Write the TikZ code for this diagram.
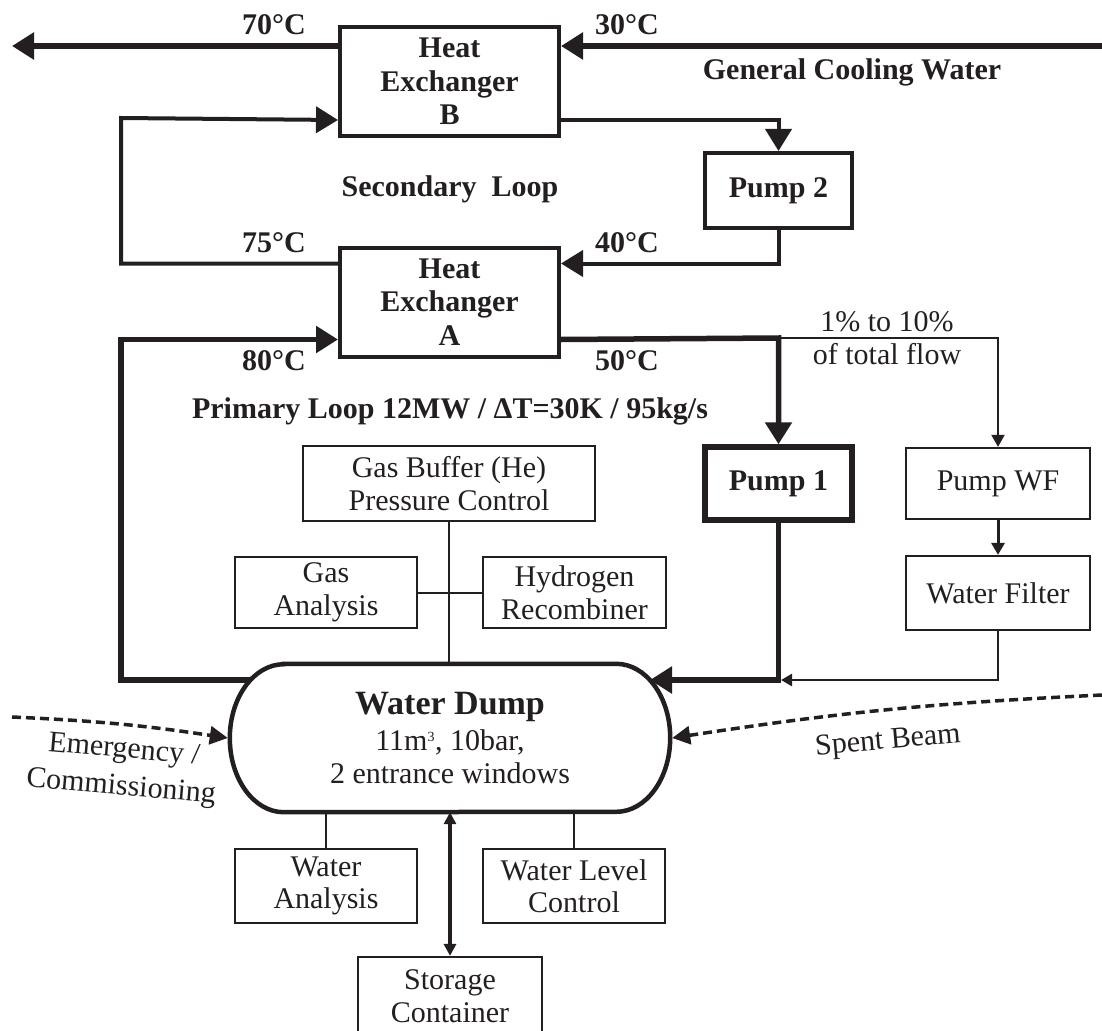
\documentclass[tikz,border=0pt]{standalone}
\usepackage{fontspec}
\setmainfont{Liberation Serif}
\usetikzlibrary{arrows.meta, calc}
\definecolor{ink}{RGB}{35,31,32}

\begin{document}
\begin{tikzpicture}[x=1pt, y=-1pt, color=ink,
            hx/.style={draw, line width=4pt, minimum width=219pt, minimum height=109pt, inner sep=0pt, align=center, font=\bfseries\fontsize{30}{33.5}\selectfont},
            pmp/.style={draw, line width=4pt, minimum width=147pt, minimum height=75pt, inner sep=0pt, font=\bfseries\fontsize{30}{33}\selectfont},
            dev/.style={draw, line width=2.2pt, minimum height=73pt, inner sep=0pt, align=center, font=\fontsize{30}{32.5}\selectfont},
            lbl/.style={inner sep=0pt, font=\bfseries\fontsize{30}{33}\selectfont},
            note/.style={inner sep=0pt, align=center, font=\fontsize{30}{33}\selectfont},
            cool/.style={line width=6pt, -{Triangle[length=22pt, width=26pt]}},
            sec/.style={line width=4pt, -{Triangle[length=22pt, width=26pt]}},
            pri/.style={line width=5.5pt, -{Triangle[length=22pt, width=26pt]}},
            ln/.style={line width=2pt},
            thinar/.style={line width=2pt, -{Triangle[length=11pt, width=12pt]}},
            beam/.style={line width=3.5pt, dash pattern=on 9pt off 5pt, -{Triangle[length=18pt, width=18pt]}}]
            \useasboundingbox (0,0) rectangle (1102,1030);
            \node[hx] (hxb) at (449.5,81.5) {Heat\\Exchanger\\B};
            \node[hx] (hxa) at (449.5,302) {Heat\\Exchanger\\A};
            \node[pmp] (p2) at (778.5,190.5) {Pump 2};
            \node[pmp, line width=5.5pt, minimum height=73pt] (p1) at (778.5,483.5) {Pump 1};
            \node[dev, minimum width=184pt, minimum height=71pt] (pwf) at (998,483.5) {Pump WF};
            \node[dev, minimum width=184pt, minimum height=74pt] (wf) at (998,593) {Water Filter};
            \node[dev, minimum width=292pt, minimum height=75pt] (gb) at (449,483.5) {Gas Buffer (He)\\Pressure Control};
            \node[dev, minimum width=182pt, minimum height=71pt] (ga) at (326,592.5) {Gas\\Analysis};
            \node[dev, minimum width=183pt, minimum height=71pt] (hr) at (574.5,592.5) {Hydrogen\\Recombiner};
            \node[dev, minimum width=182pt, minimum height=74pt] (wa) at (326,886) {Water\\Analysis};
            \node[dev, minimum width=182pt, minimum height=74pt] (wl) at (574,886) {Water Level\\Control};
            \node[dev, minimum width=184pt, minimum height=78pt] (sc) at (450,996) {Storage\\Container};
            \node[minimum width=440pt, minimum height=148pt, inner sep=0pt, align=center, font=\fontsize{30}{33}\selectfont] (dump) at (450,738)
                {{\bfseries\fontsize{34}{37}\selectfont Water Dump}\\[3pt]11m\textsuperscript{\fontsize{14}{14}\selectfont 3}, 10bar,\\2 entrance windows};
            \draw[line width=4.5pt] ([xshift=54pt]dump.north west) -- ([xshift=-54pt]dump.north east)
                arc[start angle=90, end angle=-90, x radius=54pt, y radius=74pt] -- ([xshift=54pt]dump.south west)
                arc[start angle=270, end angle=90, x radius=54pt, y radius=74pt] -- cycle;
            \node[lbl] (t70) at (274,25) {70°C};
            \node[lbl] (t30) at (627,25) {30°C};
            \node[lbl] (gcw) at (852,72) {General Cooling Water};
            \node[lbl] (secl) at (450,189) {Secondary\ \ Loop};
            \node[lbl] (t75) at (274,243) {75°C};
            \node[lbl] (t40) at (627,243) {40°C};
            \node[lbl] (t80) at (274,361) {80°C};
            \node[lbl] (t50) at (627,361) {50°C};
            \node[lbl] (pril) at (450,411) {Primary Loop 12MW / ΔT=30K / 95kg/s};
            \node[note] (frac) at (887,338) {1\% to 10\%\\of total flow};
            \node[note, rotate=-5] (emg1) at (124,751) {Emergency /};
            \node[note, rotate=-5] (emg2) at (121,788) {Commissioning};
            \node[note, rotate=5] (spb) at (888,742) {Spent Beam};
            \coordinate (cwin) at (1102,46);
            \coordinate (cwout) at (12,46);
            \draw[cool] (cwin) -- (cwin -| hxb.east);
            \draw[cool] (cwin -| hxb.west) -- (cwout);
            \coordinate (sl) at (121,118);
            \draw[sec] ([yshift=18pt]hxb.south east) -| (p2.north);
            \draw[sec] (p2.south) |- ([yshift=-18pt]hxa.north east);
            \draw[sec] ([yshift=-18pt]hxa.north west) -| (sl) -- ([yshift=18pt]hxb.south west);
            \coordinate (br) at (778.5,338);
            \coordinate (din) at (650,680);
            \coordinate (dout) at (250,680);
            \coordinate (pl) at (121,680);
            \draw[pri] ([yshift=19pt]hxa.south east) -- (br) -- (p1.north);
            \draw[thinar, -{Triangle[length=12pt, width=13pt]}] (br) -| (pwf.north);
            \draw[pri] (p1.south) |- (din);
            \draw[pri] (dout) -- (pl) |- ([yshift=19pt]hxa.south west);
            \draw[thinar, line width=2.5pt] (wf.south) |- ([xshift=2.5pt]p1.south |- din);
            \draw[thinar, line width=3pt, -{Triangle[length=12pt, width=13pt]}] (pwf) -- (wf);
            \draw[ln] (gb.south) -- (gb.south |- dump.north);
            \draw[ln] (ga) -- (hr);
            \draw[ln] (wa.north |- dump.south) -- (wa.north);
            \draw[ln] (wl.north |- dump.south) -- (wl.north);
            \draw[line width=3.5pt, {Triangle[length=12pt, width=12pt]}-{Triangle[length=12pt, width=12pt]}] (dump.south) -- (sc.north);
            \coordinate (emin) at (12,717);
            \coordinate (sbin) at (1102,695);
            \draw[beam] (emin) to[bend left=3] ([xshift=-2pt]dump.west);
            \draw[beam] (sbin) to[bend right=3] ([xshift=2pt]dump.east);
        \end{tikzpicture}
\end{document}
